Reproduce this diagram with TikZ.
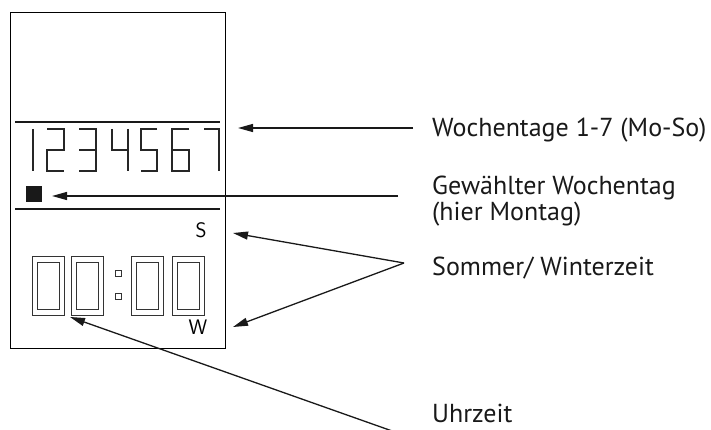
\documentclass[tikz,border=0pt]{standalone}
\usepackage{fontspec}
\setmainfont{PT Sans}
\usetikzlibrary{arrows.meta}
\tikzset{
  seg/.style={line width=1.6pt, draw=black!85, line cap=butt},
  frame/.style={line width=1pt, draw=black},
  sep/.style={line width=1.4pt, draw=black!90},
  digbox/.style={line width=0.8pt, draw=black!80},
  lbl/.style={anchor=base west, inner sep=0pt, font=\fontsize{26}{25}\selectfont, text=black!90, align=left},
  ind/.style={inner sep=0pt, font=\sffamily\fontsize{21}{21}\selectfont},
  pointer/.style={line width=1.3pt, draw=black!90, -{Triangle[length=15pt,width=8pt]}},
}
\begin{document}
\begin{tikzpicture}[x=1pt,y=-1pt]
\useasboundingbox (0,0) rectangle (711,430);
% display frame
\draw[frame] (10,13) rectangle (225,348);
\draw[sep] (15,122) -- (220,122);
\draw[sep] (15,209) -- (220,209);
% weekday digits 1..7 (segment style)
\def\dt{129}\def\dm{150}\def\db{171}
% 1
\draw[seg] (33,\dt) -- (33,\db);
% 2
\begin{scope}[shift={(47,0)}]
\draw[seg] (0,\dt) -- (17,\dt) -- (17,\dm) -- (0,\dm) -- (0,\db) -- (17,\db);
\end{scope}
% 3
\begin{scope}[shift={(79,0)}]
\draw[seg] (0,\dt) -- (17,\dt) -- (17,\db) -- (0,\db);
\draw[seg] (0,\dm) -- (17,\dm);
\end{scope}
% 4
\begin{scope}[shift={(112,0)}]
\draw[seg] (0,\dt) -- (0,\dm) -- (16,\dm);
\draw[seg] (16,\dt) -- (16,\db);
\end{scope}
% 5
\begin{scope}[shift={(141,0)}]
\draw[seg] (16,\dt) -- (0,\dt) -- (0,\dm) -- (16,\dm) -- (16,\db) -- (0,\db);
\end{scope}
% 6
\begin{scope}[shift={(172,0)}]
\draw[seg] (17,\dt) -- (0,\dt) -- (0,\db) -- (17,\db) -- (17,\dm) -- (0,\dm);
\end{scope}
% 7
\begin{scope}[shift={(204,0)}]
\draw[seg] (0,\dt) -- (15,\dt) -- (15,\db);
\end{scope}
% selected day marker
\node[fill=black!90, minimum width=16pt, minimum height=16pt, inner sep=0pt] (mark) at (33.5,194) {};
% S / W indicators
\node[ind] (S) at (201,230) {S};
\node[ind] (W) at (198,327) {W};
% time digits 00:00
\foreach \x/\n in {32/a,71/b,131/c,172/d}{
  \draw[digbox] (\x,256) rectangle (\x+32,315);
  \draw[digbox] (\x+5,262) rectangle (\x+27,309);
}
\draw[digbox] (115,270) rectangle (121,276);
\draw[digbox] (115,293) rectangle (121,299);
% labels
\node[lbl] (l1) at (432,137) {Wochentage 1-7 (Mo-So)};
\node[lbl] (l2) at (432,220) {Gewählter Wochentag\\(hier Montag)};
\node[lbl] (l3) at (432,275) {Sommer/ Winterzeit};
\node[lbl] (l4) at (432,422) {Uhrzeit};
% pointer coordinates
\coordinate (p1s) at (413,128);
\coordinate (p1e) at (238,128);
\coordinate (p2s) at (398,196);
\coordinate (p2e) at (52,196);
\coordinate (p3v) at (404,263);
\coordinate (p3a) at (233,233);
\coordinate (p3b) at (233,327);
\coordinate (p4s) at (395,432);
\coordinate (p4e) at (70,317);
\draw[pointer] (p1s) -- (p1e);
\draw[pointer] (p2s) -- (p2e);
\draw[pointer] (p3v) -- (p3a);
\draw[pointer] (p3v) -- (p3b);
\draw[pointer] (p4s) -- (p4e);
\end{tikzpicture}
\end{document}
